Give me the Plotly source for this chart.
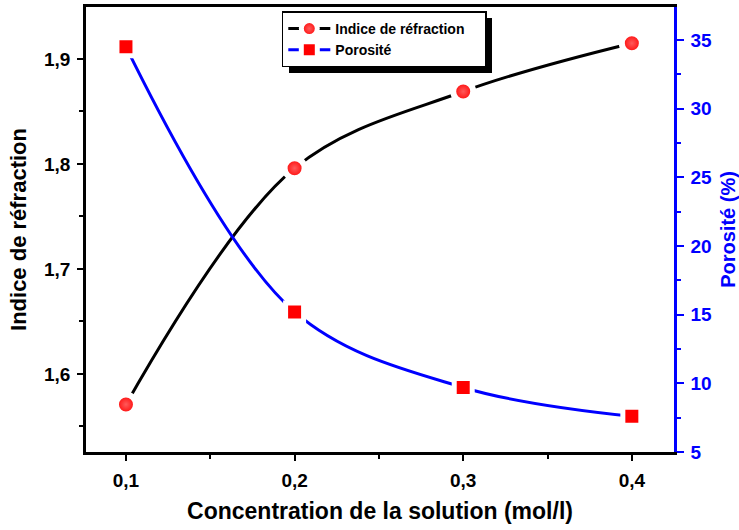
import plotly.graph_objects as go

# Data
concentration = [0.1, 0.2, 0.3, 0.4]          # mol/l
refractive_index = [1.571, 1.796, 1.869, 1.915]
porosity = [34.5, 15.2, 9.7, 7.6]              # %

x_ticks = [0.1, 0.2, 0.3, 0.4]
y1_ticks = [1.6, 1.7, 1.8, 1.9]
y2_ticks = [5, 10, 15, 20, 25, 30, 35]

FONT = "Liberation Sans, Arial, sans-serif"
BLUE = "#0000ff"
NB = "\u00a0" * 4  # keeps some room on the right of the legend text

fig = go.Figure()

fig.add_trace(go.Scatter(
    x=concentration, y=refractive_index, name="Indice de réfraction" + NB,
    mode="lines+markers",
    line=dict(color="black", width=3, shape="spline", smoothing=1.0),
    marker=dict(symbol="circle", size=20, color="#ff0000",
                gradient=dict(type="radial", color="#ff5a5a"),
                line=dict(color="white", width=6)),
    yaxis="y",
))

fig.add_trace(go.Scatter(
    x=concentration, y=porosity, name="Porosité" + NB,
    mode="lines+markers",
    line=dict(color=BLUE, width=3, shape="spline", smoothing=1.0),
    marker=dict(symbol="square", size=18, color="#ff0000",
                line=dict(color="white", width=5)),
    yaxis="y2",
))

tick_font = dict(family=FONT, size=19, color="black", weight="bold")

fig.update_layout(
    width=739, height=530,
    margin=dict(l=86, r=65, t=7, b=78, autoexpand=False),
    paper_bgcolor="white", plot_bgcolor="white",
    separators=", ",
    showlegend=True,
    legend=dict(
        x=0.333, y=0.99, xanchor="left", yanchor="top",
        bgcolor="white", bordercolor="black", borderwidth=1.5,
        font=dict(family=FONT, size=14, color="black", weight="bold"),
        tracegroupgap=0, itemwidth=42,
    ),
    xaxis=dict(
        range=[0.0763, 0.425], automargin=False,
        tickvals=x_ticks, ticks="outside", ticklen=6, tickwidth=2,
        tickcolor="black", tickfont=tick_font, ticklabelstandoff=3,
        minor=dict(dtick=0.05, tick0=0.05, ticks="outside", ticklen=4,
                   tickwidth=2, tickcolor="black"),
        showline=True, linecolor="black", linewidth=2.5, mirror=True,
        showgrid=False, zeroline=False,
        title=dict(text="Concentration de la solution (mol/l)",
                   font=dict(family=FONT, size=23, color="black", weight="bold"),
                   standoff=14),
    ),
    yaxis=dict(
        range=[1.5257, 1.9495], automargin=False,
        tickvals=y1_ticks, ticks="outside", ticklen=6, tickwidth=2,
        tickcolor="black", tickfont=tick_font, ticklabelstandoff=3,
        minor=dict(dtick=0.05, tick0=1.55, ticks="outside", ticklen=4,
                   tickwidth=2, tickcolor="black"),
        showline=True, linecolor="black", linewidth=2.5,
        showgrid=False, zeroline=False,
        title=dict(text="Indice de réfraction",
                   font=dict(family=FONT, size=22, color="black", weight="bold"),
                   standoff=12),
    ),
    yaxis2=dict(
        range=[5, 37.4], overlaying="y", side="right", automargin=False,
        tickvals=y2_ticks, ticks="outside", ticklen=7, tickwidth=2,
        tickcolor=BLUE, tickfont=dict(family=FONT, size=19, color=BLUE, weight="bold"),
        ticklabelstandoff=3,
        minor=dict(dtick=5, tick0=2.5, ticks="outside", ticklen=4,
                   tickwidth=2, tickcolor=BLUE),
        showline=True, linecolor=BLUE, linewidth=2.5,
        showgrid=False, zeroline=False,
        title=dict(text="Porosité (%)",
                   font=dict(family=FONT, size=20, color=BLUE, weight="bold"),
                   standoff=10),
    ),
)

# Drop shadow behind the legend box
fig.add_shape(type="rect", xref="paper", yref="paper",
              x0=(289 - 86) / 588, x1=(492 - 86) / 588,
              y0=(452 - 73) / 445, y1=(452 - 18) / 445,
              fillcolor="black", line=dict(width=0), layer="above")

fig.write_html("out.html")
